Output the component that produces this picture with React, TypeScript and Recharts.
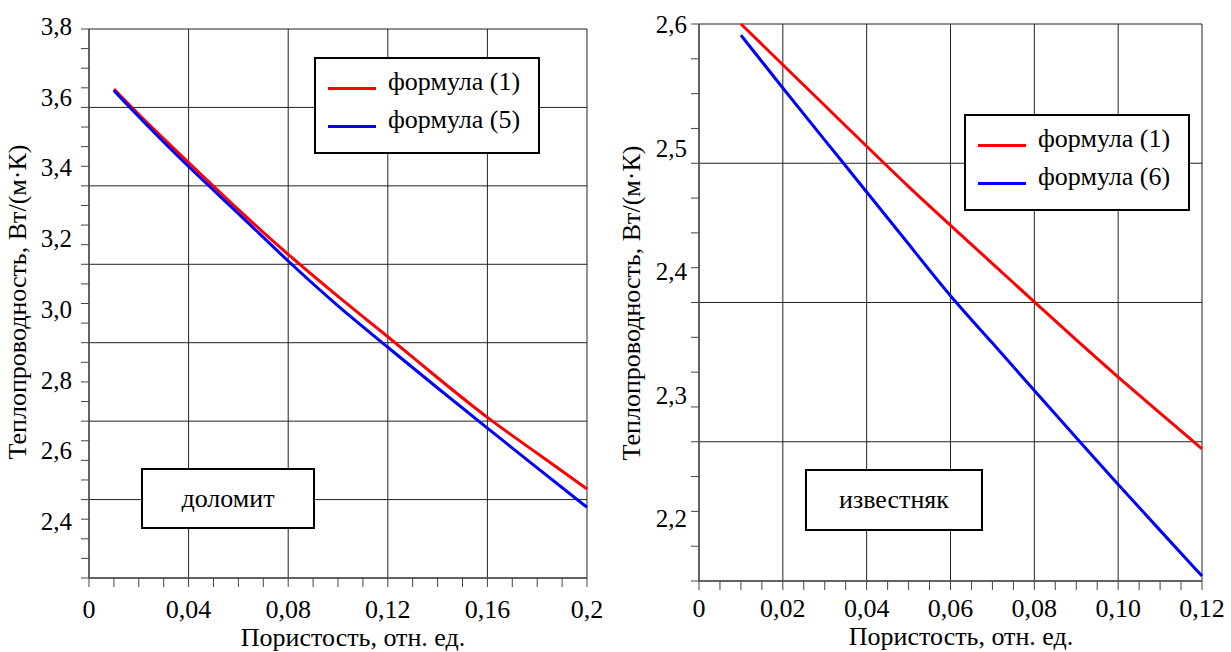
import React from 'react';
import { LineChart, Line, XAxis, YAxis, CartesianGrid, Legend } from 'recharts';

// ---------- data ----------
const dolomitePorosity = [0.01, 0.02, 0.04, 0.06, 0.08, 0.1, 0.12, 0.14, 0.16, 0.18, 0.2];
const dolomiteFormula1 = [3.63, 3.557, 3.422, 3.288, 3.161, 3.043, 2.93, 2.813, 2.699, 2.6, 2.499];
const dolomiteFormula5 = [3.626, 3.551, 3.409, 3.279, 3.142, 3.015, 2.9, 2.784, 2.671, 2.558, 2.447];

const limestonePorosity = [0.01, 0.02, 0.03, 0.04, 0.05, 0.06, 0.07, 0.08, 0.09, 0.1, 0.11, 0.12];
const limestoneFormula1 = [2.602, 2.569, 2.536, 2.503, 2.47, 2.439, 2.408, 2.377, 2.346, 2.316, 2.287, 2.258];
const limestoneFormula6 = [2.593, 2.55, 2.508, 2.466, 2.424, 2.381, 2.344, 2.305, 2.267, 2.229, 2.192, 2.155];

// tick labels
const dolomiteYLabels = [2.4, 2.6, 2.8, 3.0, 3.2, 3.4, 3.6, 3.8];
const dolomiteXLabels = [0, 0.04, 0.08, 0.12, 0.16, 0.2];
const limestoneYLabels = [2.2, 2.3, 2.4, 2.5, 2.6];
const limestoneXLabels = [0, 0.02, 0.04, 0.06, 0.08, 0.1, 0.12];

// axis ranges
const dolomiteYDomain: [number, number] = [2.247, 3.8];
const dolomiteXDomain: [number, number] = [0, 0.2];
const limestoneYDomain: [number, number] = [2.151, 2.602];
const limestoneXDomain: [number, number] = [0, 0.12];

const FONT = "'Liberation Serif', 'DejaVu Serif', serif";
const FS = 26;
const TICK_FS = 25;

const steps = (d: [number, number], n: number) =>
  Array.from({ length: n + 1 }, (_, k) => +(d[0] + ((d[1] - d[0]) * k) / n).toFixed(6));
const near = (a: number, b: number) => Math.abs(a - b) < 1e-6;
const union = (a: number[], b: number[]) => {
  const out = [...a];
  b.forEach((v) => {
    if (!out.some((o) => near(o, v))) out.push(v);
  });
  return out.sort((p, q) => p - q);
};
const every = (arr: number[], k: number) => arr.filter((_, i) => i % k === 0);

const fmtComma = (s: string) => s.replace('.', ',');

function makeYTick(minor: number[], labels: number[], gap: number, dy: number, fmt: (v: number) => string) {
  return (props: any) => {
    const { x, y, payload } = props;
    const v = payload.value;
    const isMinor = minor.some((m) => near(m, v));
    const isLabel = labels.some((l) => near(l, v));
    return (
      <g>
        {isMinor && <line x1={x - 8} x2={x} y1={y} y2={y} stroke="#444" strokeWidth={1} />}
        {isLabel && (
          <text x={x - gap} y={y + dy} textAnchor="end" fontFamily={FONT} fontSize={TICK_FS} fill="#000">
            {fmt(v)}
          </text>
        )}
      </g>
    );
  };
}

function makeXTick(minor: number[], labels: number[], dy: number, fmt: (v: number) => string) {
  return (props: any) => {
    const { x, y, payload } = props;
    const v = payload.value;
    const isMinor = minor.some((m) => near(m, v));
    const isLabel = labels.some((l) => near(l, v));
    return (
      <g>
        {isMinor && <line x1={x} x2={x} y1={y} y2={y + 9} stroke="#444" strokeWidth={1} />}
        {isLabel && (
          <text x={x} y={y + dy} textAnchor="middle" fontFamily={FONT} fontSize={FS} fill="#000">
            {fmt(v)}
          </text>
        )}
      </g>
    );
  };
}

const LegendBox = (props: any) => {
  const { payload } = props;
  return (
    <div
      style={{
        position: 'relative',
        width: 226,
        height: 97,
        boxSizing: 'border-box',
        border: '2px solid #000',
        background: '#fff',
        fontFamily: FONT,
        fontSize: FS,
        lineHeight: `${FS}px`,
      }}
    >
      {(payload || []).map((p: any, i: number) => (
        <React.Fragment key={i}>
          <div
            style={{
              position: 'absolute',
              left: 12,
              top: 27.5 + i * 38.3,
              width: 48,
              height: 3,
              background: p.color,
            }}
          />
          <div style={{ position: 'absolute', left: 72, top: 9.5 + i * 38.3, whiteSpace: 'nowrap', color: '#000' }}>
            {p.value}
          </div>
        </React.Fragment>
      ))}
    </div>
  );
};

const textBase: React.CSSProperties = {
  position: 'absolute',
  fontFamily: FONT,
  fontSize: FS,
  lineHeight: `${FS}px`,
  whiteSpace: 'nowrap',
  color: '#000',
};

const NameBox = ({ left, top, width, height, text }: any) => (
  <div
    style={{
      position: 'absolute',
      left,
      top,
      width,
      height,
      boxSizing: 'border-box',
      border: '2px solid #000',
      background: '#fff',
      display: 'flex',
      alignItems: 'center',
      justifyContent: 'center',
      fontFamily: FONT,
      fontSize: FS,
      color: '#000',
    }}
  >
    {text}
  </div>
);

export default function App() {
  const dolomiteData = dolomitePorosity.map((x, i) => ({ x, f1: dolomiteFormula1[i], f5: dolomiteFormula5[i] }));
  const limestoneData = limestonePorosity.map((x, i) => ({ x, f1: limestoneFormula1[i], f6: limestoneFormula6[i] }));

  // left panel ticks / grid
  const dYMinor = steps(dolomiteYDomain, 28);
  const dYGrid = every(dYMinor, 4);
  const dXMinor = steps(dolomiteXDomain, 20);
  const dXGrid = every(dXMinor, 4);
  // right panel ticks / grid
  const lYMinor = steps(limestoneYDomain, 16);
  const lYGrid = every(lYMinor, 4);
  const lXMinor = steps(limestoneXDomain, 24);
  const lXGrid = every(lXMinor, 4);

  const fmtD_Y = (v: number) => fmtComma(v.toFixed(1));
  const fmtD_X = (v: number) => (v === 0 ? '0' : fmtComma(String(+v.toFixed(2))));
  const fmtL_Y = (v: number) => fmtComma(v.toFixed(1));
  const fmtL_X = (v: number) => (v === 0 ? '0' : fmtComma(v.toFixed(2)));

  return (
    <div style={{ position: 'absolute', left: 0, top: 0, width: 1231, height: 652, background: '#fff', overflow: 'hidden', fontFamily: FONT }}>
      {/* LEFT: dolomite */}
      <div style={{ position: 'absolute', left: 0, top: 0 }}>
        <LineChart width={620} height={652} data={dolomiteData} margin={{ top: 29, right: 33, bottom: 44, left: 29 }}>
          <CartesianGrid
            horizontalValues={dYGrid}
            verticalValues={dXGrid}
            stroke="#222"
            strokeWidth={1}
            strokeDasharray=""
          />
          <XAxis
            type="number"
            dataKey="x"
            domain={dolomiteXDomain}
            ticks={union(dXMinor, dolomiteXLabels)}
            interval={0}
            tickSize={0}
            tickMargin={0}
            height={30}
            axisLine={{ stroke: '#555', strokeWidth: 1.5 }}
            tick={makeXTick(dXMinor, dolomiteXLabels, 40, fmtD_X)}
          />
          <YAxis
            type="number"
            domain={dolomiteYDomain}
            ticks={union(dYMinor, dolomiteYLabels)}
            interval={0}
            tickSize={0}
            tickMargin={0}
            width={60}
            axisLine={{ stroke: '#555', strokeWidth: 1.5 }}
            tick={makeYTick(dYMinor, dolomiteYLabels, 17, 6, fmtD_Y)}
          />
          <Legend
            layout="horizontal"
            verticalAlign="middle"
            align="center"
            content={LegendBox}
            wrapperStyle={{ position: 'absolute', left: 314, top: 57, width: 226, height: 97 }}
          />
          <Line type="basis" dataKey="f1" name="формула (1)" stroke="#ff0000" strokeWidth={3} dot={false} isAnimationActive={false} />
          <Line type="basis" dataKey="f5" name="формула (5)" stroke="#0000ff" strokeWidth={3} dot={false} isAnimationActive={false} />
        </LineChart>
      </div>

      {/* RIGHT: limestone */}
      <div style={{ position: 'absolute', left: 620, top: 0 }}>
        <LineChart width={611} height={652} data={limestoneData} margin={{ top: 24, right: 29, bottom: 41, left: 19 }}>
          <CartesianGrid
            horizontalValues={lYGrid}
            verticalValues={lXGrid}
            stroke="#222"
            strokeWidth={1}
            strokeDasharray=""
          />
          <XAxis
            type="number"
            dataKey="x"
            domain={limestoneXDomain}
            ticks={union(lXMinor, limestoneXLabels)}
            interval={0}
            tickSize={0}
            tickMargin={0}
            height={30}
            axisLine={{ stroke: '#555', strokeWidth: 1.5 }}
            tick={makeXTick(lXMinor, limestoneXLabels, 36, fmtL_X)}
          />
          <YAxis
            type="number"
            domain={limestoneYDomain}
            ticks={union(lYMinor, limestoneYLabels)}
            interval={0}
            tickSize={0}
            tickMargin={0}
            width={60}
            axisLine={{ stroke: '#555', strokeWidth: 1.5 }}
            tick={makeYTick(lYMinor, limestoneYLabels, 12, 7, fmtL_Y)}
          />
          <Legend
            layout="horizontal"
            verticalAlign="middle"
            align="center"
            content={LegendBox}
            wrapperStyle={{ position: 'absolute', left: 344, top: 114, width: 226, height: 97 }}
          />
          <Line type="basis" dataKey="f1" name="формула (1)" stroke="#ff0000" strokeWidth={3} dot={false} isAnimationActive={false} />
          <Line type="basis" dataKey="f6" name="формула (6)" stroke="#0000ff" strokeWidth={3} dot={false} isAnimationActive={false} />
        </LineChart>
      </div>

      {/* rock-type boxes */}
      <NameBox left={141} top={468} width={174} height={61} text="доломит" />
      <NameBox left={805} top={469} width={178} height={62} text="известняк" />

      {/* axis titles */}
      <div style={{ ...textBase, left: 353, top: 625, transform: 'translateX(-50%)' }}>Пористость, отн. ед.</div>
      <div style={{ ...textBase, left: 961, top: 624, transform: 'translateX(-50%)' }}>Пористость, отн. ед.</div>
      <div style={{ ...textBase, left: 17.7, top: 302, transform: 'translate(-50%, -50%) rotate(-90deg)' }}>
        Теплопроводность, Вт/(м·К)
      </div>
      <div style={{ ...textBase, left: 632.2, top: 303, transform: 'translate(-50%, -50%) rotate(-90deg)' }}>
        Теплопроводность, Вт/(м·К)
      </div>
    </div>
  );
}
